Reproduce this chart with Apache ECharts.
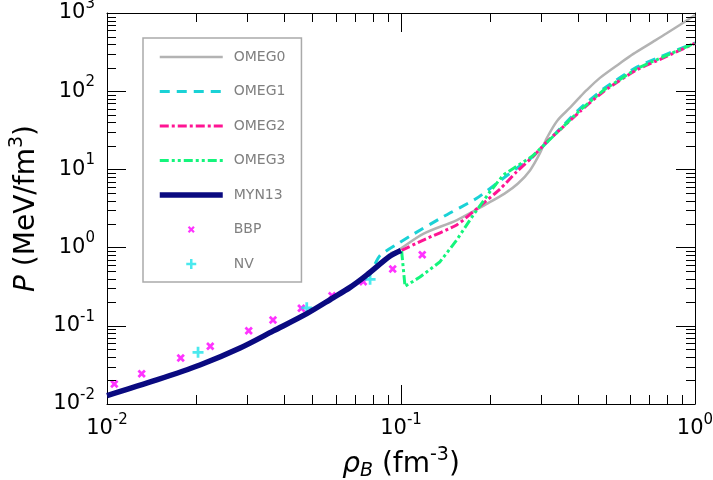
<!DOCTYPE html>
<html>
<head>
<meta charset="utf-8">
<title>P vs rho_B</title>
<script src="https://cdn.jsdelivr.net/npm/echarts@6/dist/echarts.min.js"></script>
<style>
  html, body { margin: 0; padding: 0; background: #fff; }
  #chart { width: 713px; height: 480px; }
</style>
</head>
<body>
<div id="chart"></div>
<script>
// values (rho_B in fm^-3, P in MeV/fm^3)
const omeg0Rho = [0.0918, 0.0967, 0.119, 0.155, 0.195, 0.225, 0.25, 0.2746, 0.2966, 0.313, 0.34, 0.3766, 0.406, 0.428, 0.475, 0.556, 0.617, 0.721, 0.801, 1.0];
const omeg0P   = [0.85, 0.905, 1.5, 2.25, 3.6, 4.9, 6.6, 9.7, 16, 25, 42, 62, 84, 103, 148, 228, 300, 430, 550, 940];

const omeg1Rho = [0.0816, 0.085, 0.0967, 0.1073, 0.1393, 0.1809, 0.2228, 0.2475, 0.28, 0.35, 0.406, 0.49, 0.634, 0.78, 1.0];
const omeg1P   = [0.62, 0.80, 1.10, 1.40, 2.49, 4.27, 7.69, 10.3, 14.5, 34, 60, 108, 203, 285, 415];

const omeg2Rho = [0.1005, 0.1191, 0.1547, 0.1856, 0.2171, 0.2475, 0.28, 0.313, 0.35, 0.406, 0.49, 0.634, 0.78, 1.0];
const omeg2P   = [0.92, 1.25, 1.95, 3.4, 5.6, 9.35, 14.4, 22.5, 33, 55, 100, 188, 266, 410];

const omeg3Rho = [0.1005, 0.1032, 0.116, 0.1358, 0.1547, 0.1762, 0.2008, 0.2228, 0.241, 0.28, 0.35, 0.406, 0.49, 0.634, 0.78, 1.0];
const omeg3P   = [0.9, 0.32, 0.42, 0.66, 1.25, 2.61, 5.19, 8.48, 10.3, 14.8, 33, 57, 104, 195, 275, 412];

const myn13Rho = [0.01, 0.01476, 0.0207, 0.02835, 0.0368, 0.0478, 0.0587, 0.0671, 0.0764, 0.0918, 0.1];
const myn13P   = [0.0128, 0.0203, 0.0315, 0.052, 0.086, 0.143, 0.228, 0.31, 0.445, 0.78, 0.92];

const bbpRho = [0.01059, 0.01312, 0.01781, 0.02245, 0.03034, 0.03669, 0.04581, 0.05826, 0.0744, 0.0937, 0.1181];
const bbpP   = [0.0180, 0.0244, 0.0387, 0.0547, 0.0865, 0.1186, 0.1675, 0.2427, 0.3665, 0.532, 0.811];

const nvRho = [0.0204, 0.0478, 0.0785];
const nvP   = [0.0458, 0.170, 0.393];

const xRange = [0.01, 1];
const yRange = [0.01, 1000];
const xDecades = [0.01, 0.1];
const yDecades = [0.01, 0.1, 1, 10, 100];
const minorSteps = [2, 3, 4, 5, 6, 7, 8, 9];

function pairs(xs, ys) {
  return xs.map((x, i) => [x, ys[i]]);
}

function minorValues(decades) {
  const out = [];
  decades.forEach((d) => minorSteps.forEach((k) => out.push(+(k * d).toPrecision(3))));
  return out;
}

// x marker with empty corners so it sits smaller inside its box, plus marker fills its box
const crossPath = 'path://M0,0L0.01,0Z M10,10L9.99,10Z M1.5,3.1L3.1,1.5L5,3.4L6.9,1.5L8.5,3.1L6.6,5L8.5,6.9L6.9,8.5L5,6.6L3.1,8.5L1.5,6.9L3.4,5Z';
const plusPath = 'path://M3.75,0H6.25V3.75H10V6.25H6.25V10H3.75V6.25H0V3.75H3.75Z';

function powLabel(v) {
  const e = Math.round(Math.log10(v));
  return '{b|10}{s|' + e + '}';
}

// superscript lifted with bottom padding
const labelRich = {
  b: { fontSize: 21, lineHeight: 26, color: "#000" },
  s: { fontSize: 15, lineHeight: 15, padding: [0, 0, 18, 0], color: "#000" },
};

// decade axis: frame line, long inward ticks, optional labels
function logAxis(position, range, withLabels) {
  return {
    type: "log",
    logBase: 10,
    min: range[0],
    max: range[1],
    position: position,
    axisLine: { show: true, lineStyle: { color: "#000", width: 1 } },
    axisTick: { show: true, inside: true, length: 19, lineStyle: { color: "#000", width: 1 } },
    minorTick: { show: false },
    splitLine: { show: false },
    minorSplitLine: { show: false },
    axisLabel: withLabels
      ? { show: true, formatter: powLabel, rich: labelRich, margin: 12 }
      : { show: false },
  };
}

const chart = echarts.init(document.getElementById("chart"));

const xMain = logAxis("bottom", xRange, true);
xMain.name = "{i|ρ}{sub|B} (fm{s|-3})";
xMain.nameLocation = "middle";
xMain.nameGap = 44;
xMain.nameMoveOverlap = false;
xMain.nameTextStyle = {
  fontSize: 28,
  color: "#000",
  lineHeight: 34,
  rich: {
    i: { fontSize: 28, fontStyle: "italic", color: "#000" },
    sub: { fontSize: 19, fontStyle: "italic", lineHeight: 19, padding: [12, 0, 0, 0], color: "#000" },
    s: { fontSize: 19, lineHeight: 19, padding: [0, 0, 20, 0], color: "#000" },
  },
};

const yMain = logAxis("left", yRange, true);
yMain.name = "{i|P} (MeV/fm{s|3})";
yMain.nameLocation = "middle";
yMain.nameGap = 63;
yMain.nameMoveOverlap = false;
yMain.nameTextStyle = {
  fontSize: 28,
  color: "#000",
  lineHeight: 34,
  rich: {
    i: { fontSize: 28, fontStyle: "italic", color: "#000" },
    s: { fontSize: 19, lineHeight: 19, padding: [0, 0, 20, 0], color: "#000" },
  },
};

const lineNames = ["OMEG0", "OMEG1", "OMEG2", "OMEG3", "MYN13"];
const legendItems = lineNames
  .map((n) => ({ name: n, itemStyle: { opacity: 0 } }))
  .concat([{ name: "BBP" }, { name: "NV" }]);

const option = {
  animation: false,
  backgroundColor: "#fff",
  textStyle: { fontFamily: "DejaVu Sans" },
  grid: { left: 107, right: 18, top: 13, bottom: 76, containLabel: false, outerBoundsMode: "none" },
  legend: {
    orient: "vertical",
    left: 143,
    top: 38,
    padding: [12, 16, 11, 14],
    itemWidth: 63,
    itemHeight: 10,
    itemGap: 20.5,
    borderColor: "#aaaaaa",
    borderWidth: 1.5,
    backgroundColor: "#fff",
    lineStyle: { width: "inherit" },
    textStyle: { color: "#808080", fontSize: 14, padding: [0, 0, 0, 6] },
    data: legendItems,
  },
  xAxis: [xMain, logAxis("top", xRange, false)],
  yAxis: [yMain, logAxis("right", yRange, false)],
  series: [
    {
      name: "OMEG0",
      type: "line",
      symbol: "none",
      smooth: 0.3,
      data: pairs(omeg0Rho, omeg0P),
      lineStyle: { color: "#b3b3b3", width: 2.5 },
      itemStyle: { color: "#b3b3b3" },
    },
    {
      name: "OMEG1",
      type: "line",
      symbol: "none",
      smooth: 0.2,
      data: pairs(omeg1Rho, omeg1P),
      lineStyle: { color: "#1ad2d6", width: 3, type: [10, 7] },
      itemStyle: { color: "#1ad2d6" },
    },
    {
      name: "OMEG2",
      type: "line",
      symbol: "none",
      smooth: 0.2,
      data: pairs(omeg2Rho, omeg2P),
      lineStyle: { color: "#ff1493", width: 3, type: [9, 3, 3, 3] },
      itemStyle: { color: "#ff1493" },
    },
    {
      name: "OMEG3",
      type: "line",
      symbol: "none",
      data: pairs(omeg3Rho, omeg3P),
      lineStyle: { color: "#14f57c", width: 3, type: [9, 3, 3, 3, 3, 3] },
      itemStyle: { color: "#14f57c" },
    },
    {
      name: "MYN13",
      type: "line",
      symbol: "none",
      smooth: 0.3,
      data: pairs(myn13Rho, myn13P),
      lineStyle: { color: "#0a0a80", width: 5.5 },
      itemStyle: { color: "#0a0a80" },
    },
    {
      name: "BBP",
      type: "scatter",
      symbol: crossPath,
      symbolSize: 12,
      data: pairs(bbpRho, bbpP),
      itemStyle: { color: "#ff00ff" },
    },
    {
      name: "NV",
      type: "scatter",
      symbol: plusPath,
      symbolSize: 11,
      data: pairs(nvRho, nvP),
      itemStyle: { color: "#1ee3ea" },
    },
  ],
};

chart.setOption(option);

// short 2..9 ticks on all four sides, placed with the axes' own log scale
const minorLen = 9;
function minorTickLines() {
  const els = [];
  const left = chart.convertToPixel({ xAxisIndex: 0 }, xRange[0]);
  const right = chart.convertToPixel({ xAxisIndex: 0 }, xRange[1]);
  const top = chart.convertToPixel({ yAxisIndex: 0 }, yRange[1]);
  const bottom = chart.convertToPixel({ yAxisIndex: 0 }, yRange[0]);
  const tick = (x1, y1, x2, y2) => ({
    type: "line",
    silent: true,
    z: 10,
    shape: { x1: x1, y1: y1, x2: x2, y2: y2 },
    style: { stroke: "#000", lineWidth: 1 },
  });
  minorValues(xDecades).forEach((v) => {
    const px = Math.round(chart.convertToPixel({ xAxisIndex: 0 }, v)) + 0.5;
    els.push(tick(px, bottom, px, bottom - minorLen));
    els.push(tick(px, top, px, top + minorLen));
  });
  minorValues(yDecades).forEach((v) => {
    const py = Math.round(chart.convertToPixel({ yAxisIndex: 0 }, v)) + 0.5;
    els.push(tick(left, py, left + minorLen, py));
    els.push(tick(right, py, right - minorLen, py));
  });
  return els;
}

chart.setOption({ graphic: { elements: minorTickLines() } });

window.addEventListener("resize", () => {
  chart.resize();
  chart.setOption({ graphic: { elements: minorTickLines() } });
});
</script>
</body>
</html>
